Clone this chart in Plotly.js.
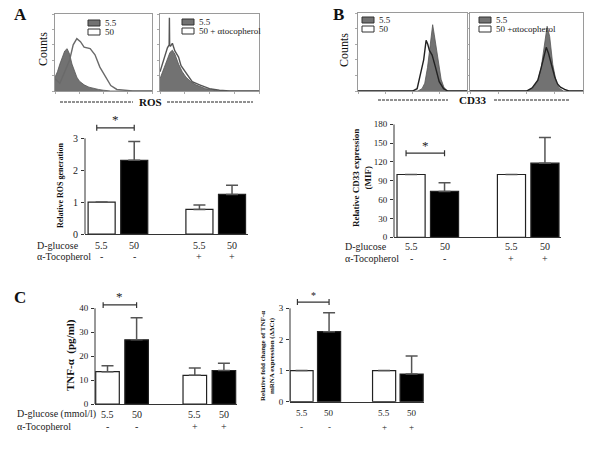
<!DOCTYPE html>
<html><head><meta charset="utf-8">
<script src="https://cdn.plot.ly/plotly-3.0.1.min.js"></script>
<style>html,body{margin:0;padding:0;background:#fff}#chart{width:600px;height:449px}</style>
</head><body><div id="chart"></div>
<script>
// ---------- data ----------
const glucose = ['5.5', '50', '5.5', '50'];
const tocopherol = ['-', '-', '+', '+'];
const pos = [1, 2, 4, 5];
const barColors = ['white', 'black', 'white', 'black'];

const rosMean = [1.0, 2.31, 0.77, 1.24];
const rosSem  = [0, 0.59, 0.14, 0.29];
const cd33Mean = [100, 73, 100, 118];
const cd33Sem  = [0, 14, 0, 41];
const tnfMean = [13.5, 26.8, 12.0, 14.0];
const tnfSem  = [2.5, 9.2, 3.0, 3.0];
const mrnaMean = [1.0, 2.25, 1.0, 0.89];
const mrnaSem  = [0, 0.61, 0, 0.58];

// flow cytometry histograms (x in log decades, y in % of max counts)
const rosX55 = [0,0.1,0.2,0.3,0.4,0.5,0.6,0.7,0.8,0.9,1.0,1.2,1.4,1.6,1.8,2.0,2.3,4];
const rosY55 = [18,25,35,45,52,55,48,35,25,18,13,8,5,3,2,1,0,0];
const rosX50 = [0,0.2,0.4,0.6,0.75,0.9,1.05,1.2,1.45,1.65,1.85,2.05,2.3,2.55,2.9,3.2,4];
const rosY50 = [16,10,25,40,60,68,64,57,55,47,31,20,7,2,1,0,0];
const rosTocX55 = [0,0.1,0.25,0.4,0.5,0.6,0.75,0.9,1.05,1.25,1.45,1.65,1.85,2.1,2.4,4];
const rosTocY55 = [16,25,38,50,53,48,35,25,18,12,8,5,3,2,0,0];
const rosTocX50 = [0,0.15,0.3,0.37,0.38,0.39,0.42,0.5,0.6,0.75,0.85,1.05,1.3,1.6,2.0,2.4,2.8,4];
const rosTocY50 = [25,42,56,60,95,60,58,62,52,44,33,23,12,8,3,1,0,0];
const cdX55 = [0,2.2,2.35,2.45,2.55,2.65,2.74,2.8,2.9,2.96,3.05,3.15,3.27,4];
const cdY55 = [0,0,3,10,30,62,85,72,48,31,15,5,0,0];
const cdX50 = [0,2.0,2.17,2.29,2.41,2.5,2.56,2.62,2.72,2.84,2.98,3.14,3.3,4];
const cdY50 = [0,0,3,20,40,65,60,52,46,31,12,3,0,0];
const cdTocX55 = [0,2.0,2.22,2.4,2.52,2.64,2.73,2.82,2.93,3.05,3.15,3.3,4];
const cdTocY55 = [0,0,3,13,30,60,83,70,34,12,4,0,0];
const cdTocX50 = [0,2.0,2.2,2.4,2.52,2.64,2.7,2.78,2.88,3.0,3.1,3.2,3.35,3.5,4];
const cdTocY50 = [0,0,4,14,30,50,56,48,35,18,9,5,2,0,0];

// ---------- helpers ----------
const W = 600, H = 449;
const px = x => x / W;
const py = y => 1 - y / H;
const FONT = '"Liberation Serif", "Times New Roman", Times, serif';
const traces = [];
const shapes = [];
const annotations = [];
const layout = {
  width: W, height: H, margin: {l: 0, r: 0, t: 0, b: 0},
  paper_bgcolor: 'white', plot_bgcolor: 'rgba(0,0,0,0)',
  showlegend: false, font: {family: FONT, color: '#222'}
};

function histAxes(n, x0, x1, y0, y1) {
  layout['xaxis' + n] = {domain: [px(x0), px(x1)], range: [0, 4], anchor: 'y' + n,
    showline: true, mirror: true, linecolor: '#9a9a9a', linewidth: 1, ticks: 'outside', ticklen: 2,
    tickcolor: '#aaa', tickvals: [0, 1, 2, 3, 4], showticklabels: false, showgrid: false, zeroline: false, fixedrange: true};
  layout['yaxis' + n] = {domain: [py(y1), py(y0)], range: [0, 100], anchor: 'x' + n,
    showline: true, mirror: true, linecolor: '#9a9a9a', linewidth: 1, ticks: 'outside', ticklen: 2,
    tickcolor: '#aaa', tickvals: [0, 20, 40, 60, 80, 100], showticklabels: false, showgrid: false, zeroline: false, fixedrange: true};
}
function hist(n, xg, yg, xw, yw, wcol) {
  traces.push({type: 'scatter', mode: 'lines', x: xg, y: yg, xaxis: 'x' + n, yaxis: 'y' + n,
    fill: 'tozeroy', fillcolor: '#727272', line: {color: '#555', width: 0.8}, hoverinfo: 'skip'});
  traces.push({type: 'scatter', mode: 'lines', x: xw, y: yw, xaxis: 'x' + n, yaxis: 'y' + n,
    line: {color: wcol, width: 1.4}, hoverinfo: 'skip'});
}
function legendBox(x, y, txt1, txt2) {
  shapes.push({type: 'rect', xref: 'paper', yref: 'paper', x0: px(x), x1: px(x + 12), y0: py(y + 6), y1: py(y),
    fillcolor: '#727272', line: {color: '#333', width: 1}});
  shapes.push({type: 'rect', xref: 'paper', yref: 'paper', x0: px(x), x1: px(x + 12), y0: py(y + 15), y1: py(y + 9),
    fillcolor: 'white', line: {color: '#333', width: 1}});
  annotations.push({xref: 'paper', yref: 'paper', x: px(x + 15), y: py(y + 3), xanchor: 'left', yanchor: 'middle',
    text: txt1, showarrow: false, font: {size: 9, family: FONT, color: '#222'}});
  annotations.push({xref: 'paper', yref: 'paper', x: px(x + 15), y: py(y + 12), xanchor: 'left', yanchor: 'middle',
    text: txt2, showarrow: false, font: {size: 9, family: FONT, color: '#222'}});
}

function barPanel(n, opt) {
  layout['xaxis' + n] = {domain: [px(opt.x0), px(opt.x1)], range: opt.xr, anchor: 'y' + n,
    showline: true, linecolor: '#333', linewidth: 1, ticks: '', showticklabels: false, showgrid: false, zeroline: false, fixedrange: true};
  layout['yaxis' + n] = {domain: [py(opt.yZero), py(opt.yTop)], range: [0, opt.ymax], anchor: 'x' + n,
    showline: false, ticks: 'outside', ticklen: 3, tickwidth: 1, tickcolor: '#333', tickvals: opt.tickvals,
    tickfont: {family: FONT, size: opt.tickSize || 10, color: '#222'}, ticklabelstandoff: 1,
    showgrid: false, zeroline: false, fixedrange: true};
  shapes.push({type: 'line', xref: 'x' + n + ' domain', yref: 'y' + n, x0: 0, x1: 0, y0: 0,
    y1: opt.tickvals[opt.tickvals.length - 1], line: {color: '#333', width: 1}});
  traces.push({type: 'bar', x: pos, y: opt.mean, width: opt.width, xaxis: 'x' + n, yaxis: 'y' + n,
    marker: {color: barColors, line: {color: '#222', width: 1.2}},
    error_y: {type: 'data', symmetric: false, array: opt.sem, arrayminus: opt.sem.map(() => 0),
      color: '#555', thickness: 1.5, width: opt.capW || 6}, hoverinfo: 'skip'});
  const upp = opt.ymax / (opt.yZero - opt.yTop);
  const lvl = opt.bracketLevel, c = 3 * upp;
  const a = pos[0] - 0.15, b = pos[1];
  traces.push({type: 'scatter', mode: 'lines', xaxis: 'x' + n, yaxis: 'y' + n,
    x: [a, a, a, b, b, b], y: [lvl - c, lvl + c, lvl, lvl, lvl + c, lvl - c],
    line: {color: '#333', width: 1.2}, hoverinfo: 'skip', cliponaxis: false});
  annotations.push({xref: 'x' + n, yref: 'y' + n, x: (a + b) / 2, y: lvl, yshift: opt.starShift || 8,
    text: '*', showarrow: false, font: {size: opt.starSize || 13, family: FONT, color: '#222'}});
  for (let i = 0; i < pos.length; i++) {
    annotations.push({xref: 'x' + n, yref: 'paper', x: pos[i], y: py(opt.row1), text: glucose[i], showarrow: false,
      yanchor: 'middle', font: {size: opt.rowSize || 10, family: FONT, color: '#222'}});
    annotations.push({xref: 'x' + n, yref: 'paper', x: pos[i], y: py(opt.row2), text: tocopherol[i], showarrow: false,
      yanchor: 'middle', font: {size: opt.rowSize || 10, family: FONT, color: '#222'}});
  }
  if (opt.label1) {
    annotations.push({xref: 'paper', yref: 'paper', x: px(opt.labelX), y: py(opt.row1), xanchor: 'left', yanchor: 'middle',
      text: opt.label1, showarrow: false, font: {size: 10, family: FONT, color: '#222'}});
    annotations.push({xref: 'paper', yref: 'paper', x: px(opt.labelX), y: py(opt.row2), xanchor: 'left', yanchor: 'middle',
      text: opt.label2, showarrow: false, font: {size: 10, family: FONT, color: '#222'}});
  }
}

// ---------- histograms ----------
histAxes('', 55, 152, 14, 91);
histAxes(2, 160, 259, 14, 91);
histAxes(3, 358, 467, 13, 91);
histAxes(4, 470, 583, 13, 91);
layout.xaxis.anchor = 'y'; layout.yaxis.anchor = 'x';
hist('', rosX55, rosY55, rosX50, rosY50, '#6a6a6a');
hist(2, rosTocX55, rosTocY55, rosTocX50, rosTocY50, '#555');
hist(3, cdX55, cdY55, cdX50, cdY50, '#222');
hist(4, cdTocX55, cdTocY55, cdTocX50, cdTocY50, '#222');
legendBox(88, 20, '5.5', '50');
legendBox(182, 19, '5.5', '50 + αtocopherol');
legendBox(362, 17, '5.5', '50');
legendBox(479, 17, '5.5', '50 +αtocopherol');

// ---------- bar panels ----------
barPanel(5, {x0: 85, x1: 248, yZero: 234, yTop: 124, ymax: 3.45, tickvals: [0, 1, 2, 3], xr: [0.49, 5.49], width: 0.83,
  mean: rosMean, sem: rosSem, bracketLevel: 3.33, row1: 245.7, row2: 256.7, label1: 'D-glucose', label2: 'α-Tocopherol', labelX: 35});
barPanel(6, {x0: 394, x1: 561, yZero: 237.3, yTop: 124.3, ymax: 180, tickvals: [0, 30, 60, 90, 120, 150, 180], xr: [0.49, 5.48], width: 0.84,
  mean: cd33Mean, sem: cd33Sem, bracketLevel: 134, row1: 246.7, row2: 258, label1: 'D-glucose', label2: 'α-Tocopherol', labelX: 343, tickSize: 9});
barPanel(7, {x0: 95, x1: 237, yZero: 404, yTop: 302.3, ymax: 42.5, tickvals: [0, 10, 20, 30, 40], xr: [0.57, 5.45], width: 0.81,
  mean: tnfMean, sem: tnfSem, bracketLevel: 41.4, row1: 414.3, row2: 426.7, label1: 'D-glucose (mmol/l)', label2: 'α-Tocopherol', labelX: 15, tickSize: 9});
barPanel(8, {x0: 290, x1: 424, yZero: 401.7, yTop: 299, ymax: 3.3, tickvals: [0, 1, 2, 3], xr: [0.58, 5.45], width: 0.84,
  mean: mrnaMean, sem: mrnaSem, bracketLevel: 3.2, row1: 413.3, row2: 426.7, tickSize: 9, rowSize: 9, starSize: 10, starShift: 7});

// ---------- texts ----------
function txt(x, y, text, size, opts) {
  annotations.push(Object.assign({xref: 'paper', yref: 'paper', x: px(x), y: py(y), text: text, showarrow: false,
    xanchor: 'center', yanchor: 'middle', font: {size: size, family: FONT, color: '#111'}}, opts || {}));
}
txt(20, 15, '<b>A</b>', 17);
txt(338, 15, '<b>B</b>', 17);
txt(20, 297, '<b>C</b>', 17);
txt(43, 49, 'Counts', 12, {textangle: -90});
txt(344, 50, 'Counts', 12, {textangle: -90});
txt(150, 102, '<b>ROS</b>', 11);
txt(472, 100, '<b>CD33</b>', 11);
txt(60, 186, '<b>Relative ROS generation</b>', 8, {textangle: -90});
txt(362, 178, '<b>Relative CD33 expression<br>(MIF)</b>', 9, {textangle: -90});
txt(70, 355, '<b>TNF-α  (pg/ml)</b>', 11, {textangle: -90});
txt(267, 356, '<b>Relative fold change of TNF-α<br>mRNA expression (ΔΔCt)</b>', 7, {textangle: -90});

[[60, 133, 102], [167, 253, 102], [378, 448, 100], [494, 570, 100]].forEach(d => {
  shapes.push({type: 'line', xref: 'paper', yref: 'paper', x0: px(d[0]), x1: px(d[1]), y0: py(d[2]), y1: py(d[2]),
    line: {color: '#222', width: 1, dash: '3px,1px'}});
});

layout.shapes = shapes;
layout.annotations = annotations;
Plotly.newPlot('chart', traces, layout, {staticPlot: true, displayModeBar: false});
</script>
</body></html>
